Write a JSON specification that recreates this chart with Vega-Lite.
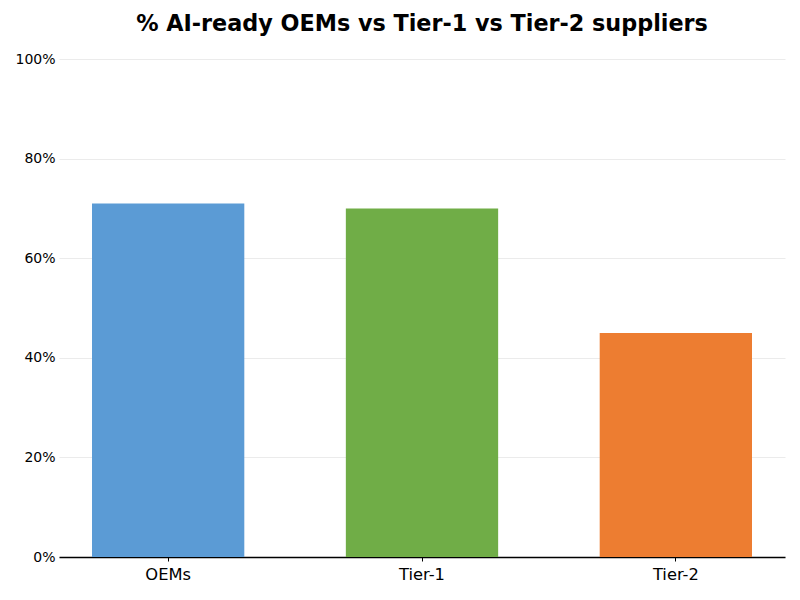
{
  "$schema": "https://vega.github.io/schema/vega-lite/v6.json",
  "width": 726,
  "height": 498,
  "autosize": {"type": "none"},
  "padding": {"left": 59, "top": 59, "right": 15, "bottom": 43},
  "background": "white",
  "title": {
    "text": "% AI-ready OEMs vs Tier-1 vs Tier-2 suppliers",
    "font": "DejaVu Sans",
    "fontSize": 22.3,
    "fontWeight": "bold",
    "color": "black",
    "anchor": "middle",
    "frame": "group",
    "offset": 17
  },
  "data": {
    "values": [
      {"group": "OEMs", "share": 0.71},
      {"group": "Tier-1", "share": 0.70},
      {"group": "Tier-2", "share": 0.45}
    ]
  },
  "mark": {"type": "bar"},
  "encoding": {
    "x": {
      "field": "group",
      "type": "nominal",
      "sort": null,
      "scale": {"paddingInner": 0.4, "paddingOuter": 0.13},
      "axis": {
        "title": null,
        "labelAngle": 0,
        "labelFont": "DejaVu Sans",
        "labelFontSize": 16.3,
        "labelColor": "black",
        "labelPadding": 5,
        "domainColor": "black",
        "domainWidth": 1.3,
        "tickColor": "black",
        "tickSize": 4,
        "grid": false
      }
    },
    "y": {
      "field": "share",
      "type": "quantitative",
      "scale": {"domain": [0, 1], "nice": false},
      "axis": {
        "title": null,
        "format": ".0%",
        "values": [0, 0.2, 0.4, 0.6, 0.8, 1.0],
        "labelFont": "DejaVu Sans",
        "labelFontSize": 14,
        "labelColor": "black",
        "labelPadding": 4,
        "ticks": false,
        "domain": false,
        "grid": true,
        "gridColor": "#e6e6e6",
        "gridWidth": 0.8
      }
    },
    "color": {
      "field": "group",
      "type": "nominal",
      "scale": {"domain": ["OEMs", "Tier-1", "Tier-2"], "range": ["#5B9BD5", "#70AD47", "#ED7D31"]},
      "legend": null
    }
  },
  "config": {"view": {"stroke": null}}
}
